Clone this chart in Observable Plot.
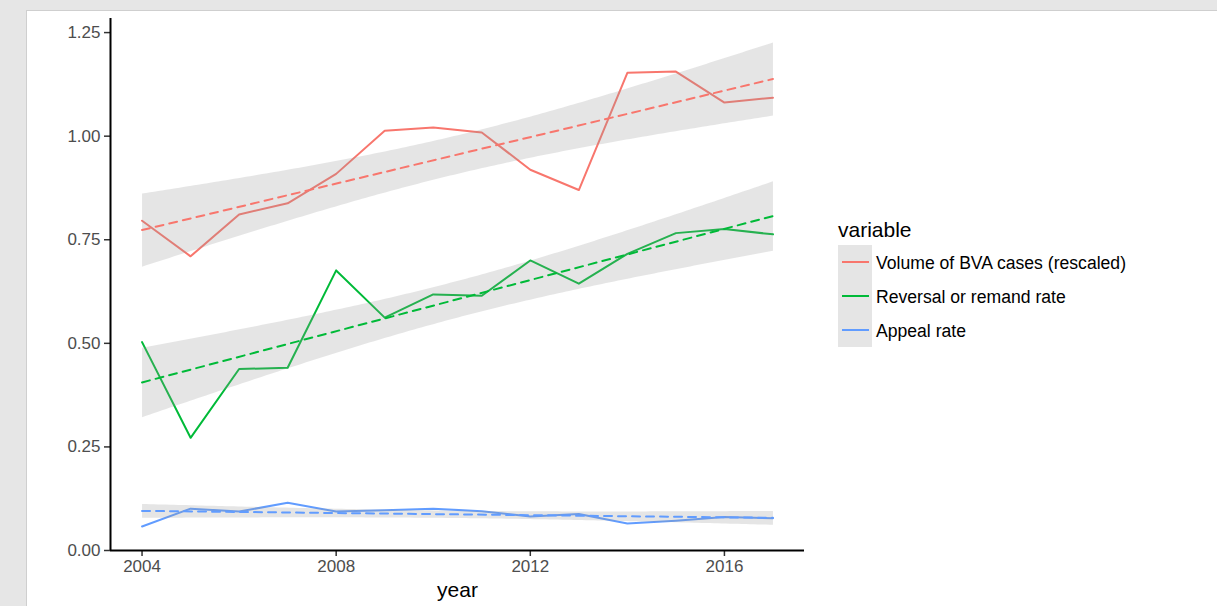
<!DOCTYPE html>
<html>
<head>
<meta charset="utf-8">
<script src="https://cdn.jsdelivr.net/npm/d3@7"></script>
<script src="https://cdn.jsdelivr.net/npm/@observablehq/plot@0.6"></script>
<style>
  html, body { margin: 0; padding: 0; }
  body { width: 1217px; height: 606px; background: #e6e6e6; position: relative; overflow: hidden;
         font-family: "Liberation Sans", Arial, Helvetica, sans-serif; }
  #panel { position: absolute; left: 26px; top: 10px; right: 0; bottom: 0; background: #fff;
           border-left: 1px solid #cfcfcf; border-top: 1px solid #cfcfcf; }
  #chart { position: absolute; left: 0; top: 0; }
  #legend-title { position: absolute; left: 838px; top: 218px; font-size: 21px; line-height: 24px; color: #000; }
  #legend-keys { position: absolute; left: 838px; top: 245px; width: 34px; height: 102px; background: #e5e5e5; }
  .key-line { position: absolute; left: 4px; width: 27px; height: 2px; }
  .key-label { position: absolute; left: 876px; font-size: 17.6px; line-height: 34px; color: #000; white-space: nowrap; }
</style>
</head>
<body>
<div id="panel"></div>
<div id="chart"></div>
<div id="legend-title">variable</div>
<div id="legend-keys"></div>
<script>
// ---- data ----
const years = [2004, 2005, 2006, 2007, 2008, 2009, 2010, 2011, 2012, 2013, 2014, 2015, 2016, 2017];
const volume   = [0.796, 0.710, 0.811, 0.838, 0.909, 1.013, 1.021, 1.009, 0.919, 0.870, 1.153, 1.156, 1.081, 1.093];
const reversal = [0.503, 0.272, 0.438, 0.441, 0.676, 0.562, 0.618, 0.615, 0.700, 0.644, 0.716, 0.766, 0.776, 0.763];
const appeal   = [0.058, 0.101, 0.094, 0.115, 0.094, 0.097, 0.101, 0.095, 0.082, 0.088, 0.065, 0.072, 0.081, 0.078];
const seriesNames = ["Volume of BVA cases (rescaled)", "Reversal or remand rate", "Appeal rate"];
const seriesColors = ["#F8766D", "#00BA38", "#619CFF"];
const xTicks = [2004, 2008, 2012, 2016];
const yTicks = [0, 0.25, 0.5, 0.75, 1.0, 1.25];
const xDomain = [2003.35, 2017.65];
const yDomain = [0, 1.284];

const seriesValues = [volume, reversal, appeal];
const data = [];
seriesNames.forEach((name, i) => {
  years.forEach((yr, j) => data.push({year: yr, value: seriesValues[i][j], variable: name}));
});

const chart = Plot.plot({
  width: 1217,
  height: 606,
  marginLeft: 110,
  marginRight: 413,
  marginTop: 18,
  marginBottom: 56,
  style: {background: "transparent", fontFamily: "'Liberation Sans', Arial, sans-serif", overflow: "visible"},
  x: {domain: xDomain},
  y: {domain: yDomain},
  color: {domain: seriesNames, range: seriesColors},
  marks: [
    Plot.line(data, {x: "year", y: "value", z: "variable", stroke: "variable", strokeWidth: 2}),
    Plot.linearRegressionY(data, {x: "year", y: "value", z: "variable", stroke: "variable",
      fill: "#999", fillOpacity: 0.25, strokeWidth: 2, strokeDasharray: "8,6", ci: 0.95}),
    Plot.axisX({ticks: xTicks, tickFormat: d => String(d), tickSize: 6, tickPadding: 3,
      fontSize: 17, stroke: "#333", strokeWidth: 1.5, fill: "#4d4d4d", label: null}),
    Plot.axisY({ticks: yTicks, tickFormat: d => d.toFixed(2), tickSize: 6, tickPadding: 4,
      fontSize: 17, stroke: "#333", strokeWidth: 1.5, fill: "#4d4d4d", label: null}),
    Plot.ruleY([yDomain[0]], {stroke: "#000", strokeWidth: 2}),
    Plot.ruleX([xDomain[0]], {stroke: "#000", strokeWidth: 2}),
    Plot.text(["year"], {frameAnchor: "bottom", dy: 46, fontSize: 21, fill: "#000"})
  ]
});
document.getElementById("chart").appendChild(chart);

// ---- legend ----
const keys = document.getElementById("legend-keys");
seriesNames.forEach((name, i) => {
  const line = document.createElement("div");
  line.className = "key-line";
  line.style.top = (17 + 34 * i - 1) + "px";
  line.style.background = seriesColors[i];
  keys.appendChild(line);
  const lab = document.createElement("div");
  lab.className = "key-label";
  lab.style.top = (246 + 34 * i) + "px";
  lab.textContent = name;
  document.body.appendChild(lab);
});
</script>
</body>
</html>
